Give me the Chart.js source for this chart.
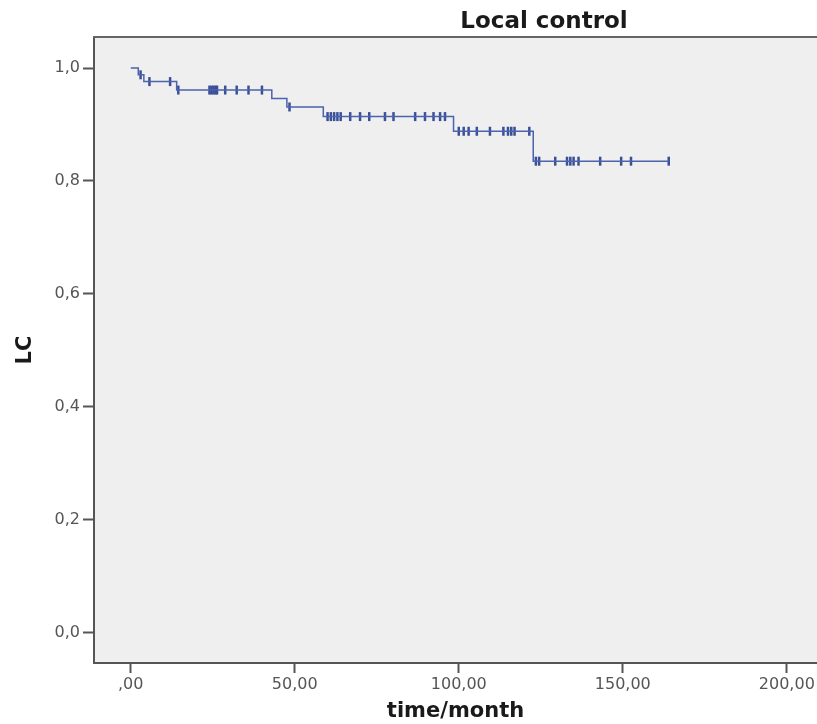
<!DOCTYPE html>
<html>
<head>
<meta charset="utf-8">
<title>Local control</title>
<script src="https://cdn.jsdelivr.net/npm/chart.js@4.4.0/dist/chart.umd.min.js"></script>
<style>
  body { margin: 0; background: #fff; }
  canvas { display: block; }
</style>
</head>
<body>
<canvas id="kmChart" width="817" height="724"></canvas>
<script>
// Kaplan-Meier steps: time of each event (months) and survival after it
const eventTimes = [0, 2.3, 4.0, 14.0, 43.0, 47.6, 58.7, 98.4, 122.7];
const survival = [1.0, 0.988, 0.976, 0.961, 0.946, 0.931, 0.914, 0.888, 0.835];

// censored follow-up times (months)
const censorTimes = [3, 5.7, 12, 14.5, 24, 24.6, 25.2, 25.8, 26.3, 28.8, 32.3, 35.9, 40,
  48.4, 60, 61, 62, 63, 64, 66.9, 69.9, 72.7, 77.5, 80.1, 86.7, 89.7, 92.3, 94.3, 95.8,
  100, 101.5, 103, 105.5, 109.5, 113.6, 115, 116, 117, 121.5,
  123.5, 124.5, 129.4, 133, 134, 135, 136.5, 143.1, 149.5, 152.5, 164];

const xTicks = [0, 50, 100, 150, 200];
const xTickLabels = [',00', '50,00', '100,00', '150,00', '200,00'];
const yTicks = [0, 0.2, 0.4, 0.6, 0.8, 1.0];
const yTickLabels = ['0,0', '0,2', '0,4', '0,6', '0,8', '1,0'];

// survival level in effect at time t
function levelAt(t) {
  let s = survival[0];
  eventTimes.forEach((e, i) => { if (e <= t) s = survival[i]; });
  return s;
}

const curve = eventTimes.map((t, i) => ({ x: t, y: survival[i] }));
const lastTime = censorTimes[censorTimes.length - 1];
curve.push({ x: lastTime, y: levelAt(lastTime) });
const censored = censorTimes.map((t) => ({ x: t, y: levelAt(t) }));

// grey plot background, top frame line and the title
const frame = {
  id: 'frame',
  beforeDraw(chart) {
    const { ctx, chartArea: a } = chart;
    ctx.save();
    ctx.fillStyle = '#efefef';
    ctx.fillRect(a.left, a.top, a.right - a.left, a.bottom - a.top);
    ctx.restore();
  },
  afterDraw(chart) {
    const { ctx, chartArea: a } = chart;
    ctx.save();
    ctx.strokeStyle = '#666';
    ctx.lineWidth = 2;
    ctx.beginPath();
    ctx.moveTo(a.left - 1, a.top);
    ctx.lineTo(a.right, a.top);
    ctx.stroke();
    ctx.fillStyle = '#1a1a1a';
    ctx.font = 'bold 23px "DejaVu Sans"';
    ctx.textAlign = 'center';
    ctx.textBaseline = 'middle';
    ctx.fillText('Local control', 544, 22);
    ctx.restore();
  }
};

const tickFont = { family: 'DejaVu Sans', size: 16 };
const titleFont = { family: 'DejaVu Sans', size: 21, weight: 'bold' };

new Chart(document.getElementById('kmChart'), {
  type: 'scatter',
  data: {
    datasets: [
      {
        label: 'LC',
        data: curve,
        showLine: true,
        stepped: true,
        borderColor: '#4a64ad',
        borderWidth: 1.5,
        pointRadius: 0
      },
      {
        label: 'Censored',
        data: censored,
        showLine: false,
        pointStyle: 'line',
        rotation: 90,
        pointRadius: 4.5,
        borderColor: '#3a4f98',
        borderWidth: 2.5
      }
    ]
  },
  options: {
    responsive: false,
    animation: false,
    layout: { autoPadding: false, padding: { top: 37, left: 0, right: 0, bottom: 0 } },
    plugins: {
      legend: { display: false },
      tooltip: { enabled: false }
    },
    scales: {
      x: {
        type: 'linear',
        min: -11.2,
        max: 209.2,
        afterFit(scale) {
          scale.height = 61;
          // the plot runs off the right edge, so no room is kept for the last label
          scale.paddingLeft = 0;
          scale.paddingRight = 0;
        },
        afterBuildTicks(scale) { scale.ticks = xTicks.map((v) => ({ value: v })); },
        ticks: {
          callback: (v) => xTickLabels[xTicks.indexOf(v)],
          color: '#555',
          font: tickFont,
          padding: 2,
          maxRotation: 0,
          autoSkip: false
        },
        grid: { drawOnChartArea: false, drawTicks: true, tickLength: 10, tickColor: '#555', tickWidth: 2 },
        border: { display: true, color: '#555', width: 2 },
        title: { display: true, text: 'time/month', color: '#1a1a1a', font: titleFont, padding: { top: 0, bottom: 0 } }
      },
      y: {
        type: 'linear',
        min: -0.054,
        max: 1.055,
        afterFit(scale) {
          scale.width = 94;
          scale.paddingTop = 0;
          scale.paddingBottom = 0;
        },
        afterBuildTicks(scale) { scale.ticks = yTicks.map((v) => ({ value: v })); },
        ticks: {
          callback: (v) => yTickLabels[yTicks.indexOf(v)],
          color: '#555',
          font: tickFont,
          padding: 3,
          autoSkip: false
        },
        grid: { drawOnChartArea: false, drawTicks: true, tickLength: 11, tickColor: '#555', tickWidth: 2 },
        border: { display: true, color: '#555', width: 2 },
        title: { display: true, text: 'LC', color: '#1a1a1a', font: titleFont, padding: { top: 13, bottom: 0 } }
      }
    }
  },
  plugins: [frame]
});
</script>
</body>
</html>
